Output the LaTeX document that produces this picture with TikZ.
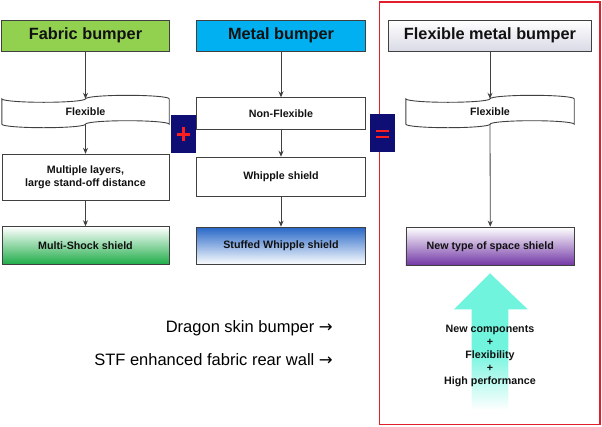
\documentclass[tikz,border=0pt]{standalone}
\usepackage{fontspec}
\setmainfont{Liberation Sans}
\newfontfamily\arrowfont{DejaVu Sans}
\usetikzlibrary{calc,arrows.meta}
\definecolor{fabgreen}{RGB}{146,208,80}
\definecolor{metblue}{RGB}{0,176,240}
\definecolor{msgreen}{RGB}{30,172,72}
\definecolor{stblue}{RGB}{40,104,200}
\definecolor{ntpurple}{RGB}{112,52,164}
\definecolor{navybox}{RGB}{14,14,116}
\definecolor{signred}{RGB}{255,30,30}
\definecolor{framered}{RGB}{226,30,44}
\definecolor{lineg}{RGB}{64,64,64}
\definecolor{aqua}{RGB}{112,244,222}
\definecolor{fmgray}{RGB}{218,218,230}
\definecolor{txt}{RGB}{17,17,17}
\pgfdeclareverticalshading{arrowfade}{100bp}{color(0bp)=(white); color(25bp)=(white); color(47bp)=(aqua); color(100bp)=(aqua)}
\newcommand\tapeoutline[1]{%
\draw[boxline] let \p1=(#1.north west), \p2=(#1.south east), \n1={(\x2-\x1)/4} in
 (\x1,\y1) .. controls (\x1,{\y1-1.933pt}) and ({\x1+0.4477*\n1},{\y1-3.5pt}) .. ({\x1+\n1},{\y1-3.5pt})
 .. controls ({\x1+1.5523*\n1},{\y1-3.5pt}) and ({\x1+2*\n1},{\y1-1.933pt}) .. ({\x1+2*\n1},\y1)
 .. controls ({\x1+2*\n1},{\y1+1.933pt}) and ({\x1+2.4477*\n1},{\y1+3.5pt}) .. ({\x1+3*\n1},{\y1+3.5pt})
 .. controls ({\x1+3.5523*\n1},{\y1+3.5pt}) and (\x2,{\y1+1.933pt}) .. (\x2,\y1)
 -- (\x2,\y2)
 .. controls (\x2,{\y2+1.933pt}) and ({\x1+3.5523*\n1},{\y2+3.5pt}) .. ({\x1+3*\n1},{\y2+3.5pt})
 .. controls ({\x1+2.4477*\n1},{\y2+3.5pt}) and ({\x1+2*\n1},{\y2+1.933pt}) .. ({\x1+2*\n1},\y2)
 .. controls ({\x1+2*\n1},{\y2-1.933pt}) and ({\x1+1.5523*\n1},{\y2-3.5pt}) .. ({\x1+\n1},{\y2-3.5pt})
 .. controls ({\x1+0.4477*\n1},{\y2-3.5pt}) and (\x1,{\y2-1.933pt}) .. (\x1,\y2) -- cycle;}
\tikzset{
 boxline/.style={draw=lineg, line width=0.9pt},
 box/.style={boxline, rectangle, inner sep=0pt, align=center, text=txt, font=\bfseries\fontsize{10.7}{12.9}\selectfont},
 head/.style={box, font=\bfseries\fontsize{16.3}{19}\selectfont},
 tapebox/.style={rectangle, inner sep=0pt, text=txt, font=\bfseries\fontsize{10.7}{12.9}\selectfont},
 sign/.style={rectangle, fill=navybox, draw=none, minimum width=25pt, minimum height=38pt},
 arr/.style={draw=lineg, line width=0.8pt, -{Stealth[length=6pt,width=5pt]}},
 side/.style={font=\fontsize{16.5}{19}\selectfont, text=black, inner sep=0pt, anchor=east}
}
\begin{document}
\begin{tikzpicture}[x=1pt,y=-1pt]
\useasboundingbox (0,0) rectangle (602,426);
% red frame
\draw[framered, line width=1.5pt] (379.5,2) rectangle (600,424.5);
% headers
\node[head, fill=fabgreen, minimum width=167.5pt, minimum height=31pt] (fabric) at (85.5,35.5) {Fabric bumper};
\node[head, fill=metblue, minimum width=168.5pt, minimum height=31pt] (metal) at (281,35.5) {Metal bumper};
\node[head, top color=white, bottom color=fmgray, minimum width=203.5pt, minimum height=31pt] (flexmetal) at (490,35.5) {Flexible metal bumper};
% second row
\node[tapebox, minimum width=167pt, minimum height=25pt] (flexL) at (85.5,111.5) {Flexible};
\tapeoutline{flexL}
\node[box, minimum width=168.5pt, minimum height=31.5pt] (nonflex) at (281,113.5) {Non-Flexible};
\node[tapebox, minimum width=168pt, minimum height=25pt] (flexR) at (490,111.5) {Flexible};
\tapeoutline{flexR}
% third row
\node[box, minimum width=167pt, minimum height=46.5pt] (multi) at (85.5,177.5) {Multiple layers,\\large stand-off distance};
\node[box, minimum width=169pt, minimum height=39pt] (whipple) at (281,176.7) {Whipple shield};
% bottom row
\node[box, top color=white, middle color=white!88!msgreen, bottom color=msgreen, minimum width=167pt, minimum height=37.6pt] (mshock) at (85.5,245.5) {Multi-Shock shield};
\node[box, top color=stblue, middle color=stblue!25!white, bottom color=white, minimum width=168.5pt, minimum height=37.7pt] (stuffed) at (281,246) {Stuffed Whipple shield};
\node[box, top color=white, middle color=white!86!ntpurple, bottom color=ntpurple, minimum width=168.7pt, minimum height=38.7pt] (newtype) at (490.3,246.5) {New type of space shield};
% operator boxes
\node[sign] (plusbox) at (183.3,133.5) {};
\draw[signred, line width=3pt] ($(plusbox.center)+(-6.5,0.5)$) -- ($(plusbox.center)+(6.5,0.5)$);
\draw[signred, line width=3pt] ($(plusbox.center)+(0.5,-6.5)$) -- ($(plusbox.center)+(0.5,7.5)$);
\node[sign] (eqbox) at (382.3,133) {};
\draw[signred, line width=2.6pt] ($(eqbox.center)+(-6.5,-2)$) -- ($(eqbox.center)+(7,-2)$);
\draw[signred, line width=2.6pt] ($(eqbox.center)+(-6.5,4)$) -- ($(eqbox.center)+(7,4)$);
% connectors
\draw[arr] (fabric) -- (flexL);
\draw[arr] (flexL) -- (multi);
\draw[arr] (multi) -- (mshock);
\draw[arr] (metal) -- (nonflex);
\draw[arr] (nonflex) -- (whipple);
\draw[arr] (whipple) -- (stuffed);
\draw[arr] (flexmetal) -- (flexR);
\draw[arr] (flexR) -- (newtype);
% big arrow
\shade[shading=arrowfade] (490,273.3) -- (527.7,309.3) -- (508.3,309.3) -- (508.3,410) -- (471.7,410) -- (471.7,309.3) -- (454,309.3) -- cycle;
\node[align=center, text=txt, inner sep=0pt, font=\bfseries\fontsize{10.7}{13}\selectfont] (bigtext) at (490,355.5) {New components\\+\\Flexibility\\+\\High performance};
% side texts
\node[side] (dragon) at (333,328) {Dragon skin bumper {\arrowfont →}};
\node[side] (stf) at (333,360) {STF enhanced fabric rear wall {\arrowfont →}};
\end{tikzpicture}
\end{document}
